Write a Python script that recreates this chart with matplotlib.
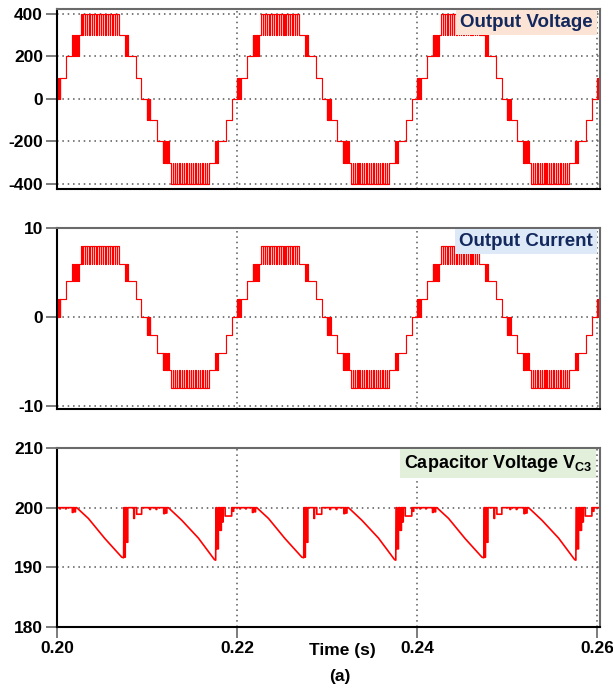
import numpy as np
import matplotlib
matplotlib.use('Agg')
import matplotlib.pyplot as plt

plt.rcParams['font.family'] = ['Liberation Sans', 'DejaVu Sans']
plt.rcParams['font.weight'] = 'bold'
plt.rcParams['axes.unicode_minus'] = False
plt.rcParams['mathtext.fontset'] = 'custom'
plt.rcParams['mathtext.rm'] = 'Liberation Sans'
plt.rcParams['mathtext.bf'] = 'Liberation Sans:bold'

# ---- output voltage: one positive half-cycle (ms after zero crossing)
zero_cross = 0.19994          # s, first rising zero crossing
half_period = 0.010           # s (50 Hz)
step_edges_ms = [0.0, 0.44, 1.11, 1.78, 2.50, 2.67, 7.00, 7.56, 8.00, 8.78, 9.44, 10.0]
step_inner = [0, 1, 2, 2, 3, 3, 3, 2, 2, 1, 0]   # x 100 V
step_outer = [1, 1, 2, 3, 3, 4, 3, 3, 2, 1, 0]   # x 100 V
step_duty = [0.5, 1, 1, 0.5, 1, 0.85, 1, 0.5, 1, 1, 1]
step_carrier_ms = [0.15, 0, 0, 0.18, 0, 0.25, 0, 0.15, 0, 0, 0]
level_volts = 100
load_ohms = 50                # 400 V -> 8 A

# ---- capacitor voltage V_C3: one 20 ms period starting at t = 0.200 s
cap_period = 0.020
cap_t0 = 0.200
cap_node_ms = [0.0, 2.19, 3.48, 5.33, 7.19, 7.40, 7.42, 12.37, 13.85, 15.70, 17.48, 17.62, 17.65, 20.0]
cap_node_v = [200.0, 200.0, 198.2, 194.8, 191.7, 191.6, 200.0, 200.0, 197.9, 194.9, 191.3, 191.2, 200.0, 200.0]
dip_start_ms = [0.30, 0.95, 1.70, 1.95, 7.50, 7.74, 8.52, 8.85, 10.30, 11.00, 11.85, 12.10,
                17.74, 18.10, 18.38, 18.67, 19.55]
dip_end_ms = [0.38, 1.02, 1.78, 2.05, 7.58, 7.86, 8.60, 9.40, 10.38, 11.08, 11.95, 12.20,
              17.92, 18.25, 18.45, 19.40, 19.62]
dip_v = [199.8, 199.8, 199.2, 199.3, 191.7, 194.2, 198.2, 198.9, 199.7, 199.7, 199.0, 199.1,
         193.1, 196.2, 197.6, 198.6, 199.4]

t_end = 0.2625


def build_voltage():
    ts, vs = [], []
    t0 = zero_cross - half_period
    sign = -1
    while t0 < t_end:
        for a, b, lo, hi, d, cp in zip(step_edges_ms[:-1], step_edges_ms[1:], step_inner,
                                       step_outer, step_duty, step_carrier_ms):
            a_s = t0 + a / 1000
            b_s = t0 + b / 1000
            if d >= 1:
                ts += [a_s, b_s]
                vs += [sign * hi * level_volts] * 2
            else:
                n = max(1, int(round((b - a) / cp)))
                w = (b_s - a_s) / n
                for j in range(n):
                    c = a_s + j * w
                    ts += [c, c + w * d, c + w * d, c + w]
                    vs += [sign * hi * level_volts] * 2 + [sign * lo * level_volts] * 2
        t0 += half_period
        sign = -sign
    return np.array(ts), np.array(vs)


def build_capacitor():
    pts = []
    for k in range(4):
        off = cap_t0 + k * cap_period
        for t, v in zip(cap_node_ms, cap_node_v):
            pts.append((off + t / 1000, 0, v))
        for s, e, v in zip(dip_start_ms, dip_end_ms, dip_v):
            pts.append((off + s / 1000, 1, 200.0))
            pts.append((off + s / 1000, 2, v))
            pts.append((off + e / 1000, 3, v))
            pts.append((off + e / 1000, 4, 200.0))
    pts.sort(key=lambda p: (p[0], p[1]))
    return np.array([p[0] for p in pts]), np.array([p[2] for p in pts])


t_v, v_out = build_voltage()
i_out = v_out / load_ohms
t_c, v_c3 = build_capacitor()

fig = plt.figure(figsize=(6.13, 6.9), dpi=100)
left, width = 57 / 613, 543 / 613
ax1 = fig.add_axes([left, 1 - 189 / 690, width, 180 / 690])
ax2 = fig.add_axes([left, 1 - 409 / 690, width, 181 / 690])
ax3 = fig.add_axes([left, 1 - 627 / 690, width, 179 / 690])

red = '#ff0000'
ax1.plot(t_v, v_out, color=red, lw=0.85)
ax2.plot(t_v, i_out, color=red, lw=0.85)
ax3.plot(t_c, v_c3, color=red, lw=1.2)

ax1.set_ylim(-423, 422)
ax1.set_yticks([-400, -200, 0, 200, 400])
ax2.set_ylim(-10.35, 10)
ax2.set_yticks([-10, 0, 10])
ax3.set_ylim(180, 210)
ax3.set_yticks([180, 190, 200, 210])

labels = [(ax1, 'Output Voltage', '#fbe4d5', '#13285c', 13.5),
          (ax2, 'Output Current', '#dde9f6', '#13285c', 13.5),
          (ax3, r'Capacitor Voltage V$_{\mathbf{C3}}$', '#e2efda', '#000000', 13)]

for ax, txt, bg, fc, fs in labels:
    ax.set_xlim(0.2, 0.2603)
    ax.set_xticks([0.20, 0.22, 0.24, 0.26])
    ax.grid(True, color='#555555', linestyle=(0, (1, 2.5)), linewidth=1.1)
    for side in ['top', 'right']:
        ax.spines[side].set_color('#6a6a6a')
        ax.spines[side].set_linewidth(1.5)
    for side in ['left', 'bottom']:
        ax.spines[side].set_color('#000000')
        ax.spines[side].set_linewidth(1.5)
    ax.tick_params(axis='y', length=8, width=1.2, color='#666666', pad=2, labelsize=12.5)
    ax.tick_params(axis='x', length=8, width=1.2, color='#666666', pad=2, labelsize=12.5)
    for lab in ax.get_yticklabels():
        lab.set_fontweight('bold')
    ax.text(0.986, 0.972, txt, transform=ax.transAxes, ha='right', va='top',
            fontsize=fs, fontweight='bold', color=fc, zorder=5,
            bbox=dict(boxstyle='square,pad=0.22', facecolor=bg, edgecolor='none'))

for ax in (ax1, ax2):
    ax.tick_params(axis='x', length=0, labelbottom=False)

ax3.set_xticklabels(['0.20', '0.22', '0.24', '0.26'], fontweight='bold')

fig.text(342 / 613, 1 - 650 / 690, 'Time (s)', ha='center', va='center',
         fontsize=12.5, fontweight='bold')
fig.text(340 / 613, 1 - 676 / 690, '(a)', ha='center', va='center',
         fontsize=12.5, fontweight='bold')

plt.savefig('out.png', dpi=100)
